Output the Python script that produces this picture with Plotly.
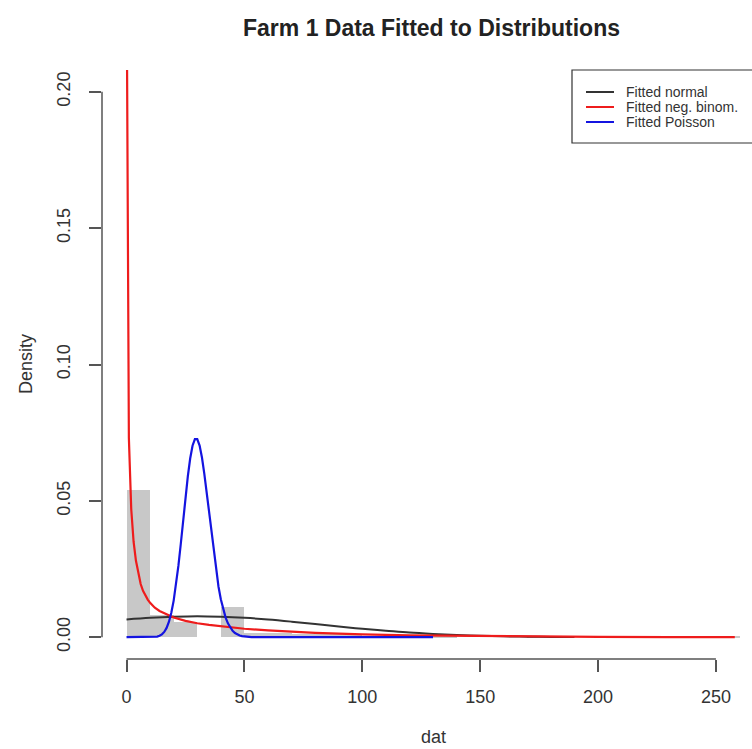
import plotly.graph_objects as go

# ---------------- data ----------------
bin_centers = [5, 15, 25, 35, 45, 55, 65, 75, 85, 95, 105, 115, 125, 135, 145,
               155, 165, 175, 185, 195, 205, 215, 225, 235, 245, 255]
bin_density = [0.054, 0.0082, 0.0055, 0.0, 0.011, 0.0015, 0.0015, 0.0012, 0.001,
               0.001, 0.0005, 0.0005, 0.0005, 0.0005, 0.0, 0.0, 0.0, 0.0005, 0.0,
               0.0, 0.0, 0.0, 0.0, 0.0, 0.0, 0.0006]

normal_x = [0, 10, 20, 30, 40, 50, 60, 70, 80, 90, 100, 110, 120, 130, 140,
            150, 160, 170, 180, 190]
normal_y = [0.0065, 0.0071, 0.0075, 0.0077, 0.0075, 0.0071, 0.0065, 0.0057, 0.0048,
            0.0039, 0.0031, 0.0024, 0.0017, 0.0012, 0.0008, 0.0005, 0.0003, 0.0002,
            0.0001, 0.00005]

negbin_x = [0, 1, 2, 3, 4, 5, 6, 7, 8, 9, 10, 12, 14, 16, 18, 20, 25, 30, 35, 40,
            45, 50, 60, 70, 80, 90, 100, 120, 140, 160, 180, 200, 230, 258]
negbin_y = [0.25, 0.073, 0.047, 0.035, 0.028, 0.023, 0.0195, 0.017, 0.0152, 0.0138,
            0.0126, 0.0108, 0.0096, 0.0087, 0.0079, 0.0072, 0.006, 0.0051, 0.0045,
            0.004, 0.0035, 0.0031, 0.0025, 0.002, 0.0016, 0.0013, 0.001, 0.0007,
            0.0005, 0.0003, 0.0002, 0.0001, 0.00005, 0.00003]

pois_x = [0, 10, 11, 12, 13, 14, 15, 16, 17, 18, 19, 20, 21, 22, 23, 24, 25, 26, 27,
          28, 29, 30, 31, 32, 33, 34, 35, 36, 37, 38, 39, 40, 41, 42, 43, 44, 45,
          46, 47, 48, 49, 50, 51, 52, 53, 54, 55, 130]
pois_y = [0.0, 0.00001, 0.00004, 0.0001, 0.00024, 0.00051, 0.00103, 0.00192, 0.0034,
          0.00566, 0.00894, 0.01341, 0.01916, 0.02613, 0.03408, 0.0426, 0.05111,
          0.05898, 0.06553, 0.07021, 0.07263, 0.07263, 0.07029, 0.0659, 0.05991,
          0.05286, 0.04531, 0.03776, 0.03061, 0.02417, 0.01859, 0.01394, 0.0102,
          0.00729, 0.00508, 0.00347, 0.00231, 0.00151, 0.00096, 0.0006, 0.00037,
          0.00022, 0.00013, 0.00007, 0.00004, 0.00002, 0.00001, 0.0]

x_ticks = [0, 50, 100, 150, 200, 250]
y_ticks = [0.0, 0.05, 0.10, 0.15, 0.20]
y_tick_labels = ["0.00", "0.05", "0.10", "0.15", "0.20"]

legend_labels = ["Fitted normal", "Fitted neg. binom.", "Fitted Poisson"]

# ---------------- styling ----------------
FONT = "Liberation Sans, Arial, sans-serif"
C_NORMAL = "#333333"
C_NEGBIN = "#ee1c1c"
C_POIS = "#1414e0"
C_AXIS = "#555555"
C_TEXT = "#333333"

W, H = 752, 749
ML, MR, MT, MB = 102, 0, 70, 90
PW, PH = W - ML - MR, H - MT - MB


def px(xp):
    return (xp - ML) / PW


def py(yp):
    return (H - MB - yp) / PH


fig = go.Figure()

fig.add_trace(go.Bar(x=bin_centers, y=bin_density, width=10,
                     marker=dict(color="#c8c8c8", line=dict(width=0)),
                     showlegend=False, hoverinfo="skip"))

fig.add_trace(go.Scatter(x=normal_x, y=normal_y, mode="lines",
                         line=dict(color=C_NORMAL, width=2, shape="spline"),
                         showlegend=False))
fig.add_trace(go.Scatter(x=negbin_x, y=negbin_y, mode="lines",
                         line=dict(color=C_NEGBIN, width=2.2),
                         showlegend=False))
fig.add_trace(go.Scatter(x=pois_x, y=pois_y, mode="lines",
                         line=dict(color=C_POIS, width=2.2),
                         showlegend=False))

shapes = [
    # R-style axis lines spanning first to last tick
    dict(type="line", xref="x", yref="paper", x0=0, x1=250, y0=0, y1=0,
         line=dict(color=C_AXIS, width=1.5)),
    dict(type="line", xref="paper", yref="y", x0=0, x1=0, y0=0, y1=0.20,
         line=dict(color=C_AXIS, width=1.5)),
    # legend box (right side cropped like the reference)
    dict(type="rect", xref="paper", yref="paper", x0=px(572), x1=px(800),
         y0=py(143), y1=py(70), line=dict(color="#333333", width=1.2),
         fillcolor="white", layer="above"),
]
annotations = []
leg_colors = [C_NORMAL, C_NEGBIN, C_POIS]
leg_y = [92, 107, 122]
for lab, col, yy in zip(legend_labels, leg_colors, leg_y):
    shapes.append(dict(type="line", xref="paper", yref="paper",
                       x0=px(586), x1=px(614), y0=py(yy), y1=py(yy),
                       line=dict(color=col, width=2), layer="above"))
    annotations.append(dict(text=lab, xref="paper", yref="paper", x=px(624),
                            y=py(yy), xanchor="left", yanchor="middle",
                            showarrow=False,
                            font=dict(family=FONT, size=14, color=C_TEXT)))

annotations += [
    dict(text="<b>Farm 1 Data Fitted to Distributions</b>", xref="paper",
         yref="paper", x=px(431), y=py(28), xanchor="center", yanchor="middle",
         showarrow=False, font=dict(family=FONT, size=23, color="#222222")),
    dict(text="Density", xref="paper", yref="paper", x=px(26), y=py(364),
         xanchor="center", yanchor="middle", textangle=-90, showarrow=False,
         font=dict(family=FONT, size=18, color=C_TEXT)),
    dict(text="dat", xref="paper", yref="paper", x=px(433), y=py(737),
         xanchor="center", yanchor="middle", showarrow=False,
         font=dict(family=FONT, size=18, color=C_TEXT)),
]

fig.update_layout(
    width=W, height=H,
    margin=dict(l=ML, r=MR, t=MT, b=MB, pad=0),
    paper_bgcolor="white", plot_bgcolor="white",
    bargap=0,
    shapes=shapes,
    annotations=annotations,
    xaxis=dict(range=[-10.4, 265.3], tickvals=x_ticks, ticks="outside",
               ticklen=12, tickwidth=1.5, tickcolor=C_AXIS, showgrid=False,
               zeroline=False, showline=False, ticklabelstandoff=9,
               tickfont=dict(family=FONT, size=18, color=C_TEXT)),
    yaxis=dict(range=[-0.008, 0.208], tickvals=y_ticks, ticktext=y_tick_labels,
               ticks="outside", ticklen=12, tickwidth=1.5, tickcolor=C_AXIS,
               showgrid=False, zeroline=False, showline=False, tickangle=-90,
               ticklabelstandoff=12,
               tickfont=dict(family=FONT, size=18, color=C_TEXT)),
)

fig.write_html("out.html")
